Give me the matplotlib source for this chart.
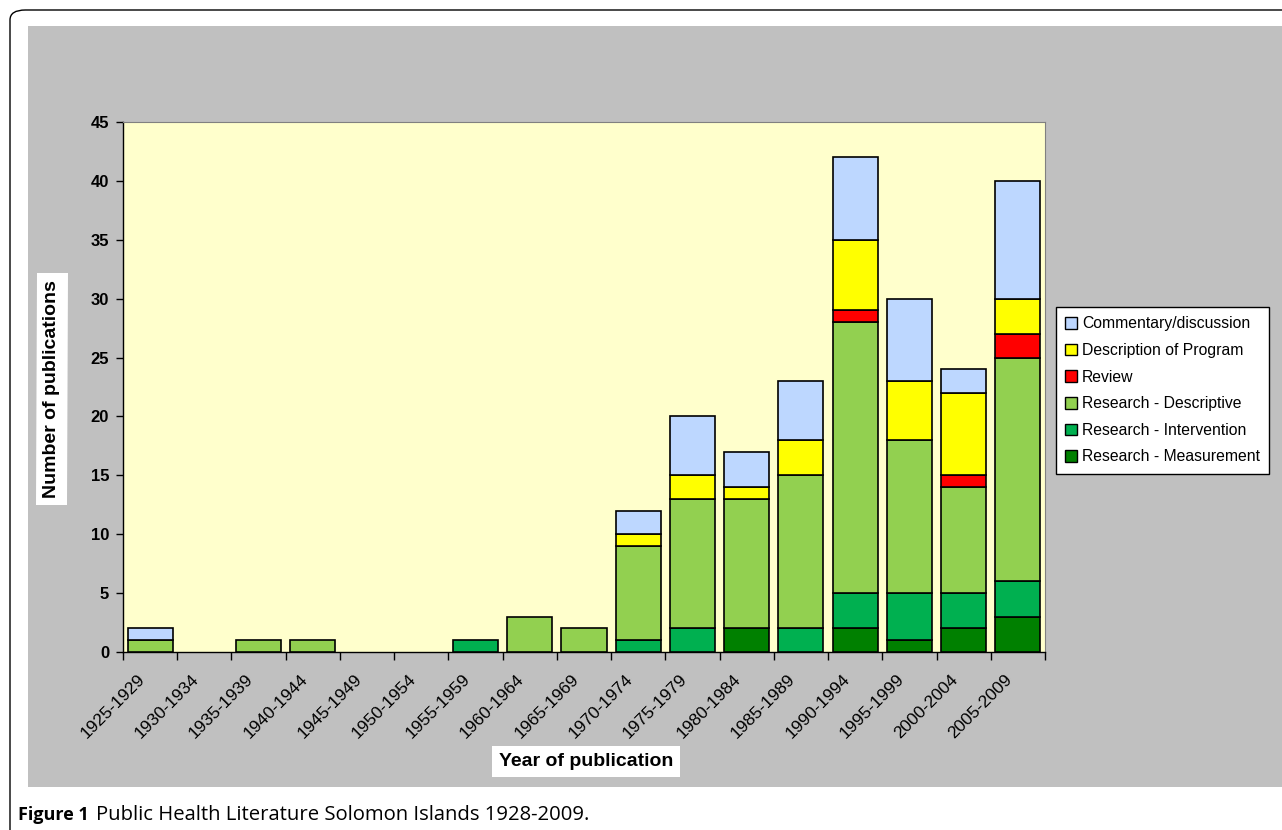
import numpy as np
import matplotlib.pyplot as plt
import matplotlib.transforms as mtransforms
from matplotlib.patches import Rectangle, FancyBboxPatch, Patch

# --- data ---
periods = ["1925-1929", "1930-1934", "1935-1939", "1940-1944", "1945-1949", "1950-1954",
           "1955-1959", "1960-1964", "1965-1969", "1970-1974", "1975-1979", "1980-1984",
           "1985-1989", "1990-1994", "1995-1999", "2000-2004", "2005-2009"]
measurement  = [0, 0, 0, 0, 0, 0, 0, 0, 0, 0, 0, 2, 0, 2, 1, 2, 3]
intervention = [0, 0, 0, 0, 0, 0, 1, 0, 0, 1, 2, 0, 2, 3, 4, 3, 3]
descriptive  = [1, 0, 1, 1, 0, 0, 0, 3, 2, 8, 11, 11, 13, 23, 13, 9, 19]
review       = [0, 0, 0, 0, 0, 0, 0, 0, 0, 0, 0, 0, 0, 1, 0, 1, 2]
program      = [0, 0, 0, 0, 0, 0, 0, 0, 0, 1, 2, 1, 3, 6, 5, 7, 3]
commentary   = [1, 0, 0, 0, 0, 0, 0, 0, 0, 2, 5, 3, 5, 7, 7, 2, 10]

series = [
    ("Research - Measurement", measurement, "#008000"),
    ("Research - Intervention", intervention, "#00B050"),
    ("Research - Descriptive", descriptive, "#92D050"),
    ("Review", review, "#FF0000"),
    ("Description of Program", program, "#FFFF00"),
    ("Commentary/discussion", commentary, "#BDD7FF"),
]

W, H = 1282, 830
fig = plt.figure(figsize=(W / 100, H / 100), dpi=100)
fig.patch.set_facecolor("white")

def fx(px):
    return px / W

def fy(py):
    return 1 - py / H

# outer rounded frame and grey chart area (behind the axes)
fig.patches.append(FancyBboxPatch((fx(10), fy(860)), fx(1320), 850 / H,
                                  boxstyle="round,pad=0,rounding_size=0.012",
                                  transform=fig.transFigure, facecolor="none",
                                  edgecolor="black", linewidth=1.0, zorder=-2))
fig.patches.append(Rectangle((fx(28), fy(787)), fx(1254), 761 / H,
                             transform=fig.transFigure, facecolor="#C0C0C0",
                             edgecolor="none", zorder=-1))

ax = fig.add_axes([fx(123), fy(652), fx(922), 530 / H])
ax.set_zorder(1)
ax.set_facecolor("#FFFFCC")

x = np.arange(len(periods))
bottom = np.zeros(len(periods))
for name, vals, col in series:
    vals = np.array(vals, dtype=float)
    m = vals > 0
    ax.bar(x[m], vals[m], bottom=bottom[m], width=0.83, color=col,
           edgecolor="black", linewidth=1.2, zorder=3)
    bottom += vals

ax.set_xlim(-0.5, len(periods) - 0.5)
ax.set_ylim(0, 45)
ax.set_yticks(range(0, 46, 5))
ax.set_yticklabels([str(v) for v in range(0, 46, 5)], fontsize=12,
                   fontweight="bold", family="Liberation Sans")

# category labels drawn as rotated text below each slot
ax.set_xticks(np.arange(-0.5, len(periods), 1))
ax.set_xticklabels([])
ax.tick_params(axis="x", length=6, width=1, direction="out")
lab_tr = mtransforms.blended_transform_factory(ax.transData, ax.transAxes) + \
    mtransforms.ScaledTranslation(-8 / 100, -25 / 100, fig.dpi_scale_trans)
for i, p in enumerate(periods):
    ax.text(i, 0, p, transform=lab_tr, rotation=45, ha="right", va="center",
            rotation_mode="anchor", fontsize=12.5, family="Liberation Sans",
            clip_on=False)

ax.tick_params(axis="y", length=5, width=1, direction="out", pad=5)
for s in ["top", "right"]:
    ax.spines[s].set_color("#808080")
for s in ["left", "bottom"]:
    ax.spines[s].set_color("black")
    ax.spines[s].set_linewidth(1.0)

fig.text(fx(52), fy(389), "Number of publications", rotation=90, ha="center",
         va="center", fontsize=14, fontweight="bold", family="Liberation Sans",
         bbox=dict(facecolor="white", edgecolor="none", pad=5))
fig.text(fx(586), fy(761), "Year of publication", ha="center", va="center",
         fontsize=14, fontweight="bold", family="Liberation Sans",
         bbox=dict(facecolor="white", edgecolor="none", pad=5))

handles = [Patch(facecolor=col, edgecolor="black", label=name)
           for name, vals, col in reversed(series)]
leg = fig.legend(handles=handles, loc="upper left",
                 bbox_to_anchor=(fx(1056), fy(307)), frameon=True, fancybox=False,
                 edgecolor="black", framealpha=1,
                 prop={"family": "Liberation Sans", "size": 11.3},
                 handlelength=0.75, handleheight=0.75, handletextpad=0.3,
                 labelspacing=0.74, borderpad=0.6, borderaxespad=0)
leg.get_frame().set_linewidth(1.0)

fig.text(fx(18), fy(815), "Figure 1", ha="left", va="center", fontsize=13,
         fontweight="bold", family="Open Sans")
fig.text(fx(96), fy(815), "Public Health Literature Solomon Islands 1928-2009.",
         ha="left", va="center", fontsize=14.6, family="Open Sans")

fig.savefig("out.png", dpi=100)
